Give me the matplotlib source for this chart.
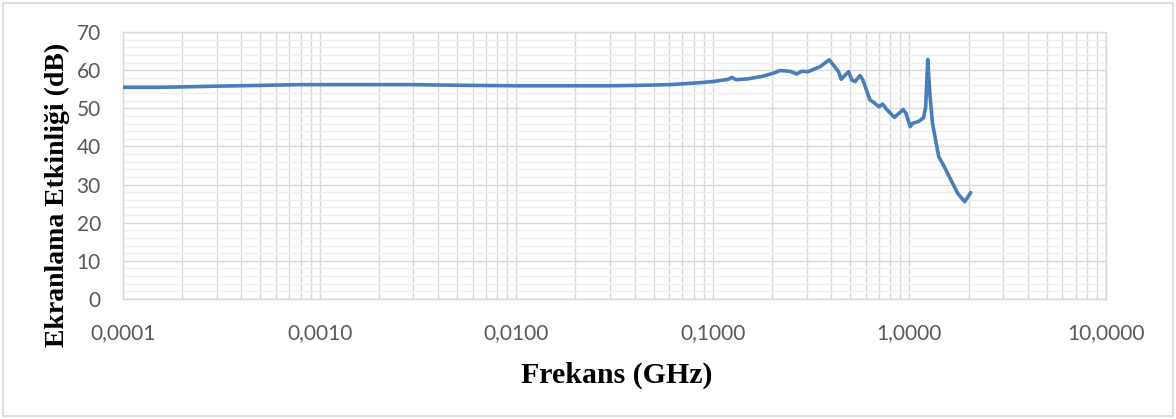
import matplotlib
matplotlib.use("Agg")
import matplotlib.pyplot as plt
from matplotlib.ticker import FixedLocator, FixedFormatter, LogLocator, MultipleLocator, NullFormatter
from matplotlib.patches import Rectangle

# Shielding effectiveness measurement (frequency in GHz, SE in dB)
freq_ghz = [0.0001, 0.00015, 0.0002, 0.0003, 0.0005, 0.0008, 0.001, 0.002, 0.003,
            0.004, 0.006, 0.01, 0.02, 0.03, 0.04, 0.05, 0.06, 0.07, 0.08, 0.09,
            0.10, 0.11, 0.12, 0.125, 0.131, 0.15, 0.18, 0.203, 0.220, 0.247,
            0.267, 0.283, 0.305, 0.351, 0.391, 0.417, 0.436, 0.45, 0.49, 0.51,
            0.53, 0.56, 0.58, 0.63, 0.66, 0.70, 0.73, 0.77, 0.84, 0.93, 0.96,
            1.01, 1.04, 1.11, 1.18, 1.21, 1.24, 1.27, 1.31, 1.41, 1.49, 1.58,
            1.76, 1.91, 2.05]
se_db = [55.5, 55.5, 55.6, 55.8, 56.0, 56.2, 56.2, 56.2, 56.2,
         56.1, 56.0, 55.9, 55.9, 55.9, 56.0, 56.1, 56.2, 56.4, 56.6, 56.8,
         57.0, 57.3, 57.6, 58.1, 57.5, 57.7, 58.4, 59.2, 59.9, 59.7,
         59.0, 59.7, 59.6, 60.9, 62.7, 60.9, 59.6, 57.6, 59.6, 57.4,
         57.0, 58.6, 57.4, 52.2, 51.5, 50.4, 51.1, 49.6, 47.6, 49.7, 48.7,
         45.2, 46.1, 46.5, 47.5, 50.4, 62.8, 53.9, 46.1, 37.3, 35.1, 32.5,
         27.7, 25.5, 27.9]

x_ticks = [0.0001, 0.001, 0.01, 0.1, 1.0, 10.0]
x_tick_labels = ["0,0001", "0,0010", "0,0100", "0,1000", "1,0000", "10,0000"]
y_ticks = [0, 10, 20, 30, 40, 50, 60, 70]

W, H, DPI = 1176, 419, 100
fig = plt.figure(figsize=(W / DPI, H / DPI), dpi=DPI)
fig.patch.set_facecolor("white")

# light frame around the whole chart
fig.add_artist(Rectangle((3 / W, 3 / H), (W - 6) / W, (H - 6) / H,
                         transform=fig.transFigure, fill=False,
                         edgecolor="#d9d9d9", linewidth=1.2))

left, right, top, bottom = 123, 1106, 32, 299
ax = fig.add_axes([left / W, 1 - bottom / H, (right - left) / W, (bottom - top) / H])

ax.plot(freq_ghz, se_db, color="#4a7ebb", linewidth=2.6, solid_joinstyle="round",
        solid_capstyle="round", zorder=3)

ax.set_xscale("log")
ax.set_xlim(x_ticks[0], x_ticks[-1])
ax.set_ylim(y_ticks[0], y_ticks[-1])

ax.xaxis.set_major_locator(FixedLocator(x_ticks))
ax.xaxis.set_major_formatter(FixedFormatter(x_tick_labels))
ax.xaxis.set_minor_locator(LogLocator(base=10, subs=range(2, 10)))
ax.xaxis.set_minor_formatter(NullFormatter())
ax.yaxis.set_major_locator(FixedLocator(y_ticks))
ax.yaxis.set_minor_locator(MultipleLocator(2))

ax.grid(which="major", axis="both", color="#d9d9d9", linewidth=1.0, zorder=1)
ax.grid(which="minor", axis="x", color="#d9d9d9", linewidth=1.0, zorder=1)
ax.grid(which="minor", axis="y", color="#efefef", linewidth=1.0, zorder=0)
ax.set_axisbelow(True)

for side in ["top", "right", "left", "bottom"]:
    ax.spines[side].set_color("#d9d9d9")
    ax.spines[side].set_linewidth(1.0)

ax.tick_params(which="both", length=0)
ax.tick_params(axis="x", which="major", pad=17)
ax.tick_params(axis="y", which="major", pad=16)
for lbl in ax.get_xticklabels() + ax.get_yticklabels():
    lbl.set_fontfamily("Lato")
    lbl.set_fontsize(15)
    lbl.set_color("#595959")

fig.text(617 / W, 1 - 383 / H, "Frekans (GHz)", ha="center", va="baseline",
         fontfamily="Liberation Serif", fontweight="bold", fontsize=21.5, color="black")
fig.text(57 / W, 1 - 195 / H, "Ekranlama Etkinliği (dB)", ha="center", va="center",
         rotation=90, fontfamily="Liberation Serif", fontweight="bold",
         fontsize=20, color="black")

fig.savefig("out.png", dpi=DPI, facecolor="white")
